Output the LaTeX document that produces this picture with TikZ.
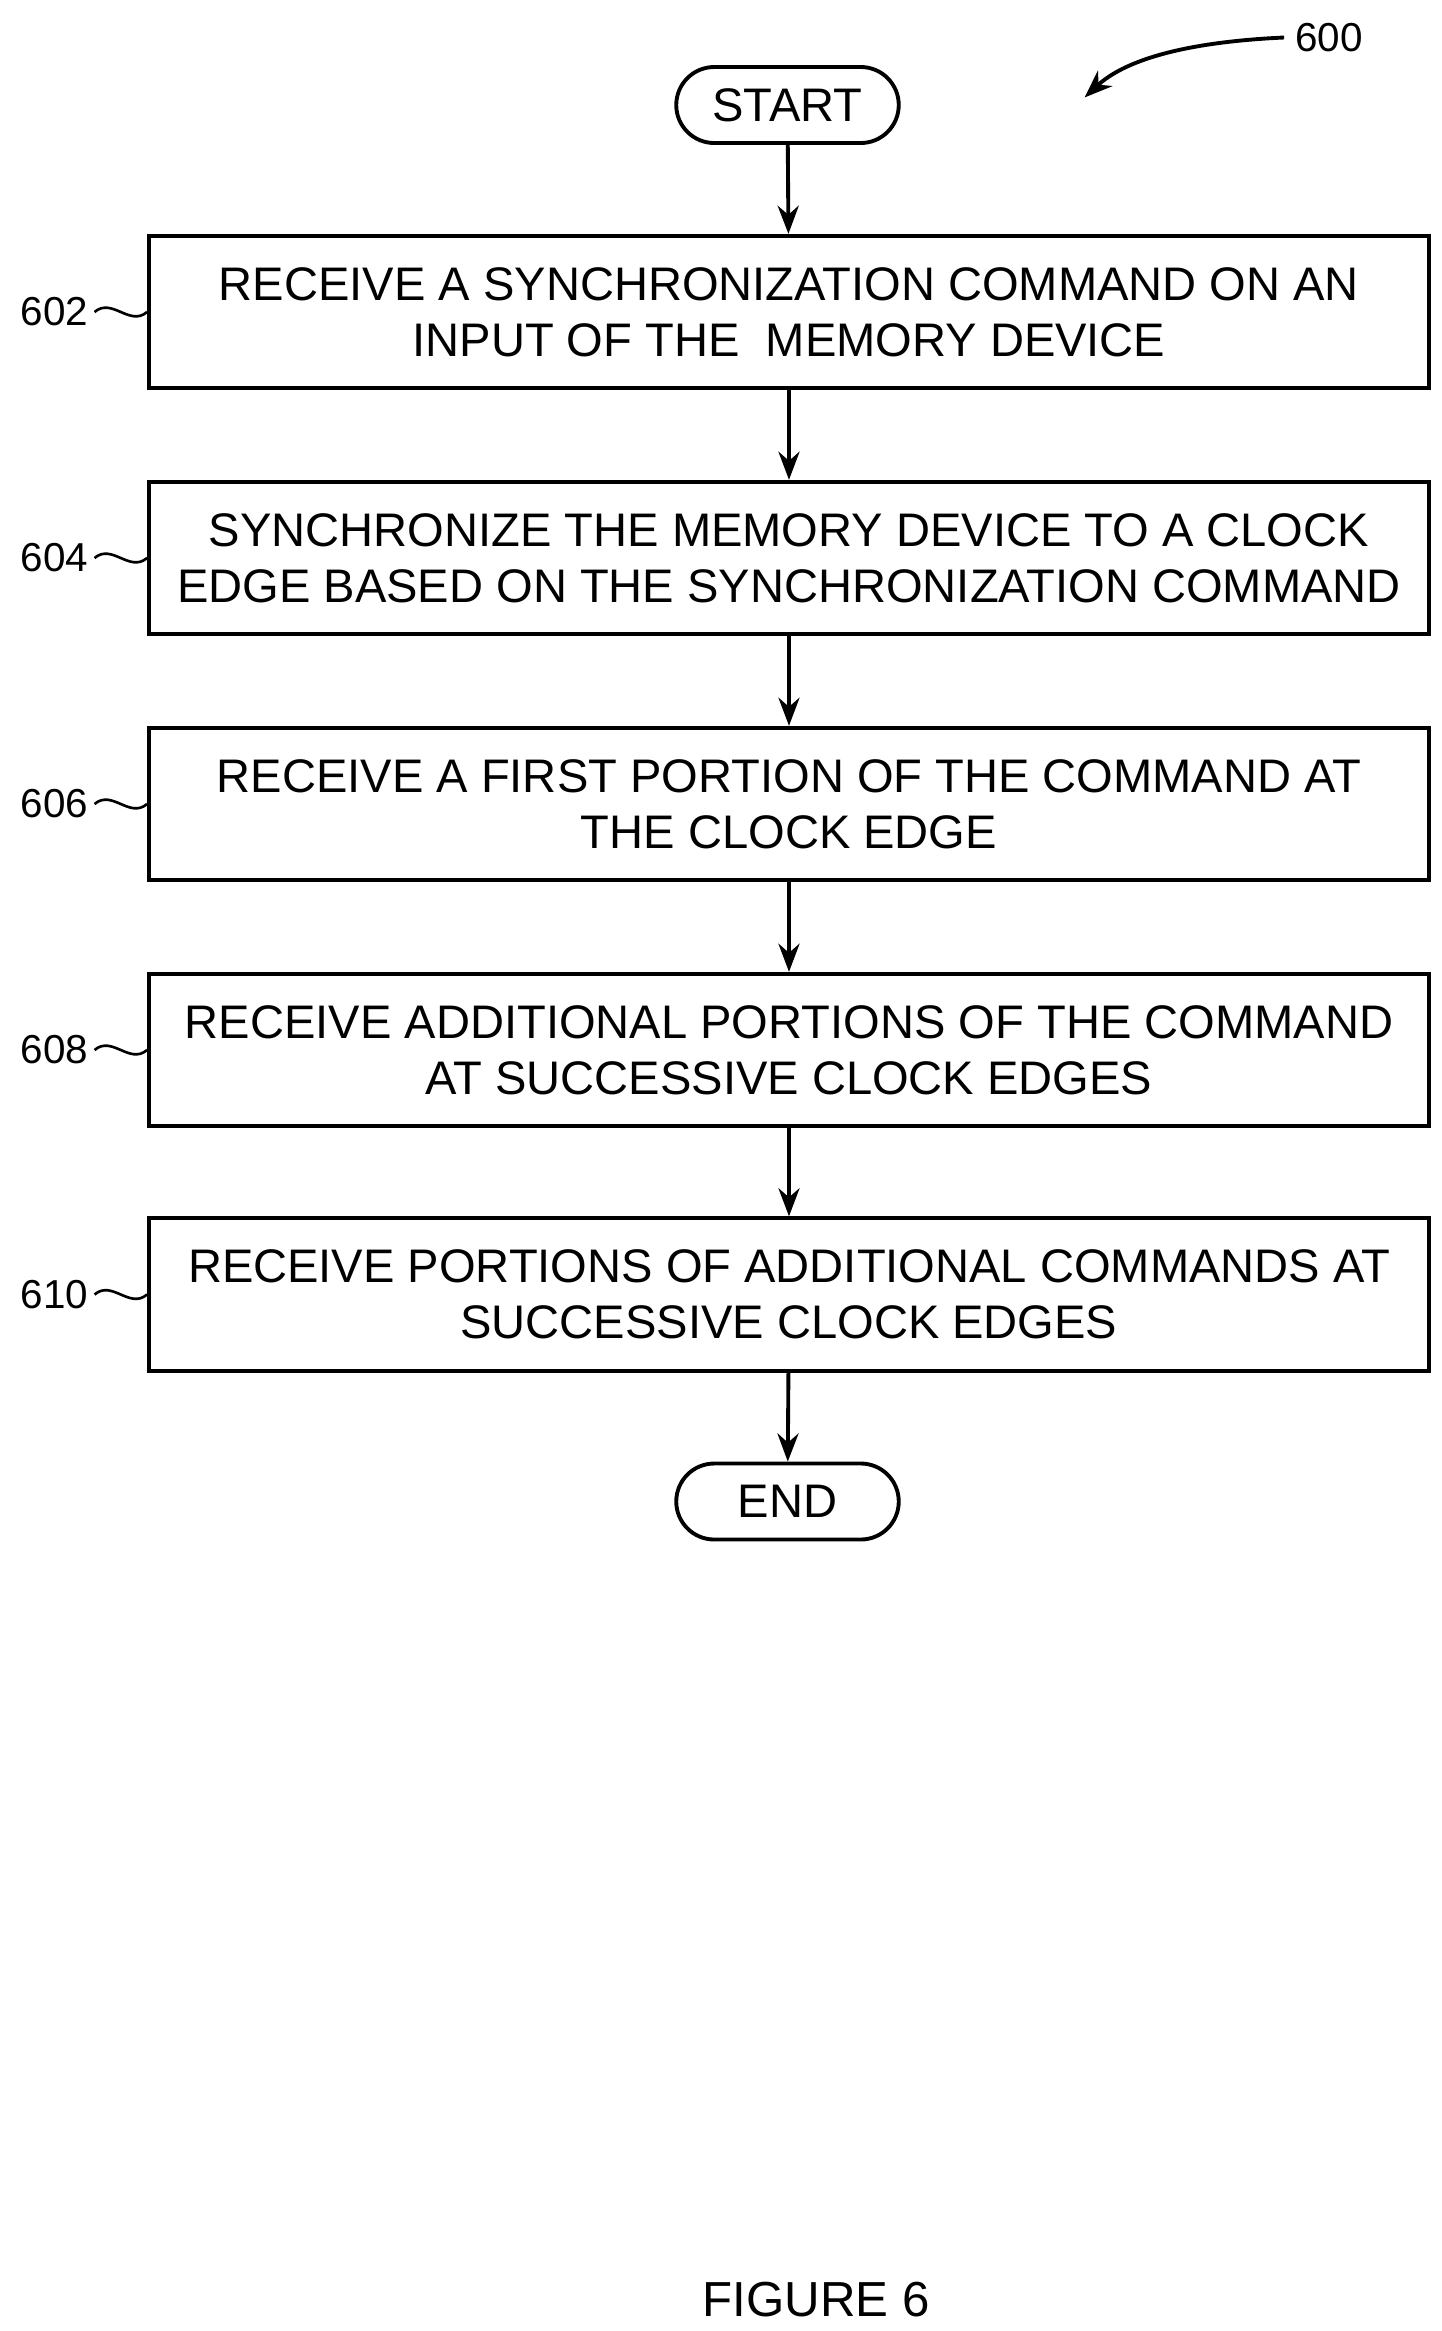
\documentclass[tikz,border=0pt]{standalone}
\usepackage{fontspec}
\setmainfont{Liberation Sans}
\usetikzlibrary{positioning,arrows.meta}
\tikzset{
  procbox/.style={draw,line width=2.2pt,minimum width=25.6cm,minimum height=3.05cm,align=center,font=\fontsize{26.8}{32}\selectfont},
  term/.style={draw,line width=2.2pt,rounded corners=0.76cm,minimum width=4.45cm,minimum height=1.52cm,font=\fontsize{26.8}{30}\selectfont},
  flow/.style={-{Stealth[length=16pt,width=12pt]},line width=2.2pt},
  ref/.style={font=\fontsize{23}{26}\selectfont}
}
\begin{document}
\begin{tikzpicture}[x=0.03cm,y=-0.03cm]
\useasboundingbox (0,0) rectangle (961,1554);
% terminals
\node[term] (start) at (525,70) {START};
\node[term] (end) at (525,1001) {END};
% steps
\node[procbox] (s602) at (526,208) {RECEIVE A SYNCHRONIZATION COMMAND ON AN\\INPUT OF THE \ MEMORY DEVICE};
\node[procbox] (s604) at (526,372) {SYNCHRONIZE THE MEMORY DEVICE TO A CLOCK\\EDGE BASED ON THE SYNCHRONIZATION COMMAND};
\node[procbox] (s606) at (526,536) {RECEIVE A FIRST PORTION OF THE COMMAND AT\\THE CLOCK EDGE};
\node[procbox] (s608) at (526,700) {RECEIVE ADDITIONAL PORTIONS OF THE COMMAND\\AT SUCCESSIVE CLOCK EDGES};
\node[procbox] (s610) at (526,863) {RECEIVE PORTIONS OF ADDITIONAL COMMANDS AT\\SUCCESSIVE CLOCK EDGES};
% connectors
\draw[flow] (start) -- (s602);
\draw[flow] (s602) -- (s604);
\draw[flow] (s604) -- (s606);
\draw[flow] (s606) -- (s608);
\draw[flow] (s608) -- (s610);
\draw[flow] (s610) -- (end);
% reference numerals
\foreach \n in {602,604,606,608,610}{
  \node[ref,anchor=east] (l\n) at ([xshift=-1.05cm]s\n.west) {\n};
  \draw[line width=1.5pt] (l\n.east) .. controls +(0.35cm,0.3cm) and +(-0.35cm,-0.3cm) .. (s\n.west);
}
\node[ref] (l600) at (886,25) {600};
\coordinate (a600) at (723,65);
\draw[flow] ([xshift=-0.1cm]l600.west) .. controls (790,28) and (750,40) .. (a600);
\node[font=\fontsize{28}{32}\selectfont] (fig) at (544,1533) {FIGURE 6};
\end{tikzpicture}
\end{document}
